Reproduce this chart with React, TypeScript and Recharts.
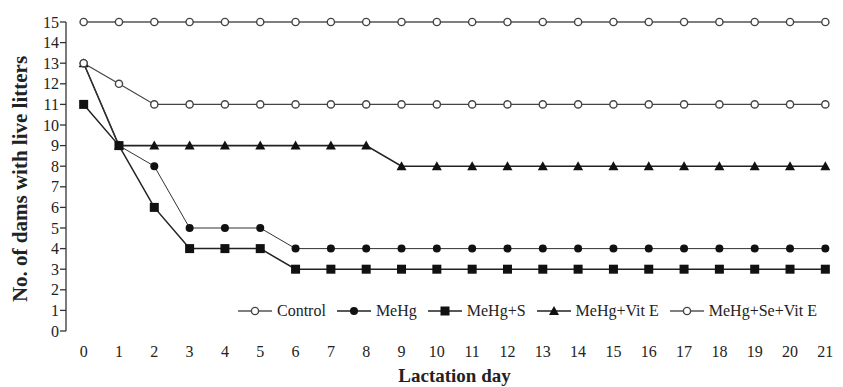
import { Label, Legend, Line, LineChart, XAxis, YAxis } from "recharts";

const days = [0, 1, 2, 3, 4, 5, 6, 7, 8, 9, 10, 11, 12, 13, 14, 15, 16, 17, 18, 19, 20, 21];
const control = [15, 15, 15, 15, 15, 15, 15, 15, 15, 15, 15, 15, 15, 15, 15, 15, 15, 15, 15, 15, 15, 15];
const meHg = [13, 9, 8, 5, 5, 5, 4, 4, 4, 4, 4, 4, 4, 4, 4, 4, 4, 4, 4, 4, 4, 4];
const meHgS = [11, 9, 6, 4, 4, 4, 3, 3, 3, 3, 3, 3, 3, 3, 3, 3, 3, 3, 3, 3, 3, 3];
const meHgVitE = [13, 9, 9, 9, 9, 9, 9, 9, 9, 8, 8, 8, 8, 8, 8, 8, 8, 8, 8, 8, 8, 8];
const meHgSeVitE = [13, 12, 11, 11, 11, 11, 11, 11, 11, 11, 11, 11, 11, 11, 11, 11, 11, 11, 11, 11, 11, 11];
const yTicks = [0, 1, 2, 3, 4, 5, 6, 7, 8, 9, 10, 11, 12, 13, 14, 15];
const bandEdges = [-0.5, ...days.map((d) => d + 0.5)];

const data = days.map((day, i) => ({
  day,
  control: control[i],
  meHg: meHg[i],
  meHgS: meHgS[i],
  meHgVitE: meHgVitE[i],
  meHgSeVitE: meHgSeVitE[i],
}));

const FONT = "Liberation Serif, DejaVu Serif, serif";

type Shape = "openCircle" | "circle" | "square" | "triangle";

function Marker({ cx, cy, shape }: { cx: number; cy: number; shape: Shape }) {
  if (shape === "openCircle")
    return <circle cx={cx} cy={cy} r={3.6} fill="#fff" stroke="#444" strokeWidth={1.4} />;
  if (shape === "circle") return <circle cx={cx} cy={cy} r={4} fill="#111" />;
  if (shape === "square")
    return <rect x={cx - 4.5} y={cy - 4.5} width={9} height={9} fill="#111" />;
  return <polygon points={`${cx},${cy - 5} ${cx + 5},${cy + 4} ${cx - 5},${cy + 4}`} fill="#111" />;
}

const dot = (shape: Shape) => (props: any) =>
  <Marker key={`${shape}-${props.index}`} cx={props.cx} cy={props.cy} shape={shape} />;

const legendItems: { name: string; shape: Shape; color: string }[] = [
  { name: "Control", shape: "openCircle", color: "#555" },
  { name: "MeHg", shape: "circle", color: "#222" },
  { name: "MeHg+S", shape: "square", color: "#222" },
  { name: "MeHg+Vit E", shape: "triangle", color: "#222" },
  { name: "MeHg+Se+Vit E", shape: "openCircle", color: "#555" },
];

function LegendContent() {
  return (
    <div style={{ display: "flex", alignItems: "center", fontFamily: FONT, fontSize: 16, color: "#222" }}>
      {legendItems.map((item) => (
        <div key={item.name} style={{ display: "flex", alignItems: "center", marginRight: 11 }}>
          <svg width={34} height={12} style={{ marginRight: 5 }}>
            <line x1={0} y1={6} x2={34} y2={6} stroke={item.color} strokeWidth={1.4} />
            <Marker cx={17} cy={6} shape={item.shape} />
          </svg>
          <span style={{ whiteSpace: "nowrap" }}>{item.name}</span>
        </div>
      ))}
    </div>
  );
}

export default function App() {
  return (
    <div style={{ position: "absolute", left: 0, top: 0, background: "#fff" }}>
      <LineChart width={843} height={387} data={data} margin={{ top: 22, right: 0, bottom: 0, left: 0 }}>
        <XAxis
          xAxisId="edges"
          type="number"
          dataKey="day"
          domain={[-0.5, 21.5]}
          ticks={bandEdges}
          height={0}
          tick={() => <g />}
          tickSize={6}
          stroke="#333"
          strokeWidth={1.3}
        />
        <XAxis
          type="number"
          dataKey="day"
          domain={[-0.5, 21.5]}
          ticks={days}
          height={56}
          tickLine={false}
          axisLine={false}
          tickMargin={9}
          tick={{ fill: "#222", fontSize: 16, fontFamily: FONT }}
        >
          <Label
            value="Lactation day"
            position="insideBottom"
            offset={5}
            style={{ fontFamily: FONT, fontSize: 19, fontWeight: "bold", fill: "#222" }}
          />
        </XAxis>
        <YAxis
          domain={[0, 15]}
          ticks={yTicks}
          interval={0}
          width={66}
          tickSize={6}
          tickMargin={1}
          stroke="#333"
          strokeWidth={1.3}
          tick={{ fill: "#222", fontSize: 16, fontFamily: FONT }}
          label={{
            content: () => (
              <text
                x={20}
                y={179}
                transform="rotate(-90 20 179)"
                textAnchor="middle"
                dominantBaseline="central"
                style={{ fontFamily: FONT, fontSize: 21, fontWeight: "bold", fill: "#222" }}
              >
                No. of dams with live litters
              </text>
            ),
          }}
        />
        <Legend
          content={<LegendContent />}
          layout="horizontal"
          verticalAlign="middle"
          align="center"
          wrapperStyle={{ left: 238, top: 302, width: "auto" }}
        />
        <Line dataKey="control" stroke="#555" strokeWidth={1.5} dot={dot("openCircle")} isAnimationActive={false} />
        <Line dataKey="meHgVitE" stroke="#222" strokeWidth={1.6} dot={dot("triangle")} isAnimationActive={false} />
        <Line dataKey="meHg" stroke="#333" strokeWidth={1} dot={dot("circle")} isAnimationActive={false} />
        <Line dataKey="meHgSeVitE" stroke="#444" strokeWidth={1.2} dot={dot("openCircle")} isAnimationActive={false} />
        <Line dataKey="meHgS" stroke="#222" strokeWidth={1.5} dot={dot("square")} isAnimationActive={false} />
      </LineChart>
    </div>
  );
}
